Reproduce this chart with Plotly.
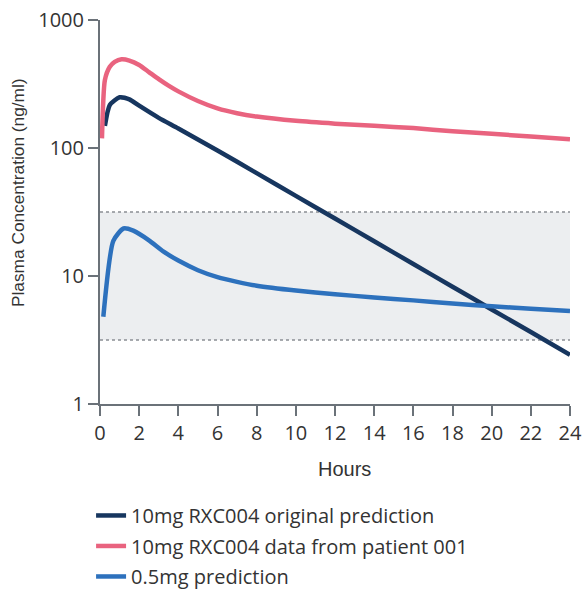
import plotly.graph_objects as go

# --- data ---
orig_x = [0.25, 0.5, 1.0, 1.5, 2, 3, 4, 6, 8, 10, 12, 14, 16, 18, 20, 22, 24]
orig_y = [149, 217, 249, 240, 214, 172, 142, 95.7, 63.6, 42.3, 28.1, 18.7, 12.4, 8.25, 5.48, 3.65, 2.42]

pat_x = [0.1, 0.25, 0.5, 0.75, 1.1, 1.5, 2, 2.5, 3, 3.5, 4, 5, 6, 7, 8, 10, 12, 14, 16, 18, 20, 22, 24]
pat_y = [119, 340, 431, 470, 493, 482, 445, 392, 345, 307, 277, 233, 204, 187, 176, 163, 155, 149, 143, 135, 129, 123, 117]

low_x = [0.17, 0.68, 1.2, 1.7, 2.5, 3.25, 4, 5, 6, 7, 8, 10, 12, 14, 16, 18, 20, 22, 24]
low_y = [4.8, 18.8, 23.5, 22.6, 19, 15.5, 13.2, 11.1, 9.8, 9.0, 8.4, 7.7, 7.2, 6.8, 6.45, 6.1, 5.8, 5.55, 5.33]

band_low, band_high = 3.16, 31.6
x_ticks = list(range(0, 25, 2))
y_ticks = [1, 10, 100, 1000]

names = ["10mg RXC004 original prediction", "10mg RXC004 data from patient 001", "0.5mg prediction"]
colors = ["#17365f", "#e9637f", "#2d71bd"]
x_title = "Hours"
y_title = "Plasma Concentration (ng/ml)"

TICKFONT = "Open Sans"
TITLEFONT = "Liberation Sans"
TXT = "#333333"
AXIS = "#6b7279"

fig = go.Figure()
for i, (xs, ys, n, c) in enumerate(zip([orig_x, pat_x, low_x], [orig_y, pat_y, low_y], names, colors)):
    fig.add_trace(go.Scatter(x=xs, y=ys, mode="lines", name=n, legendgroup=f"g{i}",
                             line=dict(color=c, width=4.5, shape="spline", smoothing=0.6),
                             cliponaxis=False))

fig.add_shape(type="rect", xref="x", yref="y", x0=0, x1=24, y0=band_low, y1=band_high,
              fillcolor="#eceef0", line=dict(width=0), layer="below")
for v in (band_low, band_high):
    fig.add_shape(type="line", xref="x", yref="y", x0=0, x1=24, y0=v, y1=v,
                  line=dict(color="#8a8f94", width=1.5, dash="dot"), layer="below")

# axis titles as annotations (exact placement)
fig.add_annotation(text=x_title, xref="paper", yref="paper", x=0.521, y=-0.169,
                   xanchor="center", yanchor="middle", showarrow=False,
                   font=dict(size=20, family=TITLEFONT, color=TXT))
fig.add_annotation(text=y_title, xref="paper", yref="paper", x=-0.1745, y=0.552,
                   xanchor="center", yanchor="middle", showarrow=False, textangle=-90,
                   font=dict(size=17.3, family=TITLEFONT, color=TXT))

fig.update_layout(
    width=583, height=589,
    margin=dict(l=100, r=13, t=20, b=185, autoexpand=False),
    paper_bgcolor="white", plot_bgcolor="white",
    font=dict(family=TICKFONT, color=TXT),
    showlegend=True,
    legend=dict(x=-0.019, y=-0.2395, xanchor="left", yanchor="top",
                font=dict(size=20, family=TICKFONT, color=TXT),
                tracegroupgap=1.5, bgcolor="rgba(0,0,0,0)"),
    xaxis=dict(range=[0, 24], tickvals=x_ticks, ticktext=[str(t) for t in x_ticks],
               automargin=False,
               showgrid=False, zeroline=False, showline=True, linecolor=AXIS, linewidth=2,
               ticks="outside", ticklen=10, tickwidth=2, tickcolor=AXIS,
               tickfont=dict(size=20, family=TICKFONT, color=TXT)),
    yaxis=dict(type="log", range=[0, 3], tickvals=y_ticks, ticktext=[str(t) for t in y_ticks],
               automargin=False,
               showgrid=False, zeroline=False, showline=True, linecolor=AXIS, linewidth=2,
               ticks="outside", ticklen=10, tickwidth=2, tickcolor=AXIS,
               tickfont=dict(size=20, family=TICKFONT, color=TXT)),
)

fig.write_html("out.html", config={"displayModeBar": False},
               post_script="document.body.style.margin='0';")
